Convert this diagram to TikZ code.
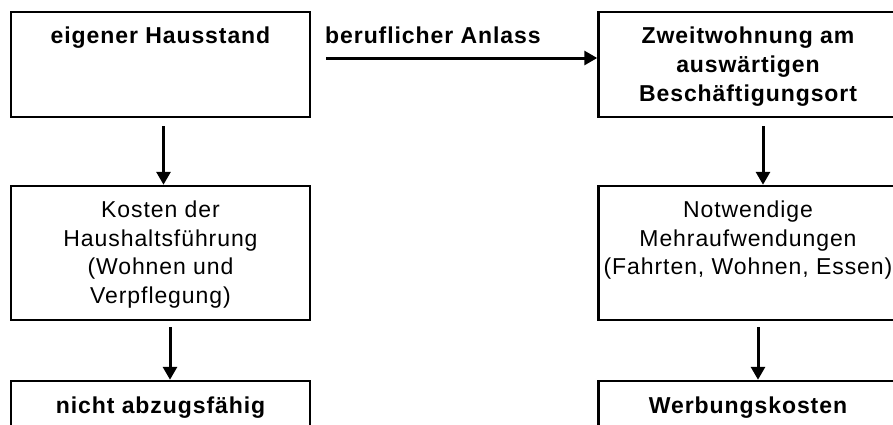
\documentclass[tikz,border=0pt]{standalone}
\usepackage{fontspec}
\setmainfont{Liberation Sans}[LetterSpace=4]
\usetikzlibrary{arrows.meta,positioning}

\tikzset{
  box/.style={draw, line width=2.5pt, minimum width=299pt, minimum height=105pt, inner sep=0pt},
  head/.style={font=\bfseries\fontsize{23}{29}\selectfont, align=center, inner sep=0pt},
  body/.style={font=\fontsize{23}{28.5}\selectfont, align=center, inner sep=0pt},
  arr/.style={-{Triangle[width=14pt,length=13pt]}, line width=3pt},
}

\begin{document}
\begin{tikzpicture}[x=1pt,y=-1pt]
\useasboundingbox (0,0) rectangle (893,424);
\clip (0,0) rectangle (893,424);
\node[box] (haus) at (160.5,64.5) {};
\node[box] (zweit) at (748,64.5) {};
\node[box, minimum height=134pt] (kosten) at (160.5,253) {};
\node[box, minimum height=134pt] (mehr) at (748,253) {};
\node[box] (nicht) at (160.5,433.5) {};
\node[box] (werb) at (748,433.5) {};
\node[head, below=16pt of haus.north] (haustxt) {eigener Hausstand};
\node[head, below=16pt of zweit.north] (zweittxt) {Zweitwohnung am\\auswärtigen\\Beschäftigungsort};
\node[body, below=16pt of kosten.north] (kostentxt) {Kosten der\\Haushaltsführung\\(Wohnen und\\Verpflegung)};
\node[body, below=16pt of mehr.north] (mehrtxt) {Notwendige\\Mehraufwendungen\\(Fahrten, Wohnen, Essen)};
\node[head, below=17pt of nicht.north] (nichttxt) {nicht abzugsfähig};
\node[head, below=17pt of werb.north] (werbtxt) {Werbungskosten};
\node[head, anchor=base west] (anlass) at (325,43) {beruflicher Anlass};
\draw[arr, shorten <=15pt] ([yshift=6.5pt]haus.east) -- ([yshift=6.5pt]zweit.west);
\draw[arr, shorten <=8pt] ([xshift=3pt]haus.south) -- ([xshift=3pt]kosten.north);
\draw[arr, shorten <=6pt] ([xshift=9.5pt]kosten.south) -- ([xshift=9.5pt]nicht.north);
\draw[arr, shorten <=8pt] ([xshift=15pt]zweit.south) -- ([xshift=15pt]mehr.north);
\draw[arr, shorten <=6pt] ([xshift=10pt]mehr.south) -- ([xshift=10pt]werb.north);
\end{tikzpicture}
\end{document}
